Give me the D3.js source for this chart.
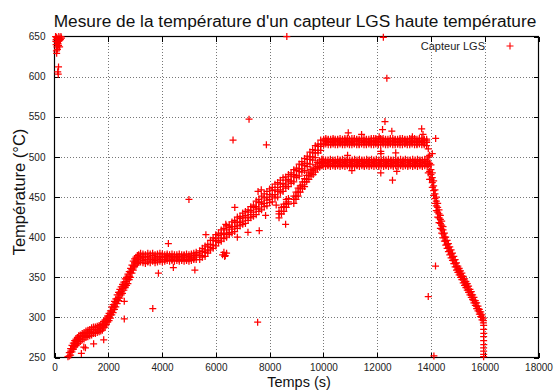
<!DOCTYPE html>
<html>
<head>
<meta charset="utf-8">
<script src="https://cdn.jsdelivr.net/npm/d3@7"></script>
<style>
  body { margin: 0; background: #fff; }
  text { font-family: "Liberation Sans", Arial, Helvetica, sans-serif; }
</style>
</head>
<body>
<svg id="chart" width="554" height="390"></svg>
<script>
// ---- Labels and ticks ----
const chartTitle = "Mesure de la température d'un capteur LGS haute température";
const xTitle = "Temps (s)";
const yTitle = "Température (°C)";
const seriesName = "Capteur LGS";
const xTicks = [0, 2000, 4000, 6000, 8000, 10000, 12000, 14000, 16000, 18000];
const yTicks = [250, 300, 350, 400, 450, 500, 550, 600, 650];

// ---- Readings: each row is a time (s) followed by the temperatures (°C) logged around it ----
const warmup = [
  [500, 243, 247, 251], [550, 248, 252, 256], [600, 253, 258, 261], [650, 257, 261, 265],
  [700, 260, 264, 268], [750, 263, 267, 271], [800, 265, 270, 273], [850, 267, 271, 275],
  [900, 268, 273, 277], [960, 270, 274, 278], [1030, 272, 276, 280], [1100, 273, 278, 281],
  [1170, 275, 278, 283], [1240, 276, 280, 284], [1310, 277, 282, 285], [1380, 278, 281, 287],
  [1450, 280, 283, 288], [1520, 280, 285, 288], [1590, 281, 284, 289], [1660, 282, 287, 290],
  [1720, 283, 286, 291], [1780, 284, 289, 292], [1830, 287, 290, 295], [1880, 288, 293, 297],
  [1930, 291, 295, 299], [1980, 294, 298, 302], [2030, 296, 301, 305], [2080, 299, 304, 308],
  [2130, 303, 307, 313], [2180, 306, 312, 316], [2230, 310, 314, 320], [2280, 313, 319, 323],
  [2330, 317, 322, 328], [2380, 321, 325, 331], [2430, 324, 330, 335], [2480, 328, 332, 338],
  [2530, 330, 336, 341], [2580, 334, 339, 344], [2630, 337, 341, 348], [2680, 340, 345, 350],
  [2730, 342, 348, 354], [2780, 347, 351, 357], [2830, 350, 356, 361], [2880, 355, 360, 365],
  [2930, 359, 364, 370], [2980, 363, 368, 373], [3030, 365, 370, 375], [3080, 367, 372, 377],
  [3130, 369, 374, 378]
];

const hold375 = [
  [3200, 369, 373, 376, 380], [3290, 368, 371, 375, 379], [3380, 367, 372, 374, 378],
  [3470, 369, 370, 376, 380], [3560, 368, 373, 375, 379], [3650, 370, 372, 377, 380],
  [3740, 368, 371, 374, 378], [3830, 369, 373, 376, 379], [3920, 370, 372, 375, 380],
  [4010, 369, 374, 376, 379], [4100, 370, 372, 375, 378], [4190, 371, 373, 377, 379],
  [4280, 370, 374, 376, 378], [4370, 371, 372, 375, 379], [4460, 370, 373, 376, 378],
  [4550, 371, 374, 375, 378], [4640, 370, 372, 376, 379], [4730, 371, 373, 375, 378],
  [4820, 370, 374, 377, 378], [4910, 371, 372, 375, 379], [5000, 370, 373, 376, 378],
  [5090, 371, 374, 375, 379], [5180, 372, 373, 377, 380], [5270, 372, 375, 378, 381]
];

const rampMain = [
  [5400, 372, 377, 379, 383], [5500, 375, 377, 382, 386], [5600, 376, 381, 384, 389],
  [5700, 380, 383, 388, 391], [5800, 384, 387, 391, 396], [5900, 386, 390, 396, 399],
  [6000, 389, 395, 398, 403], [6100, 393, 396, 402, 405], [6200, 395, 399, 404, 409],
  [6300, 398, 403, 405, 411], [6400, 400, 404, 409, 414], [6500, 403, 406, 412, 415],
  [6600, 405, 410, 413, 419], [6700, 407, 413, 418, 421], [6800, 411, 415, 419, 425],
  [6900, 414, 418, 423, 426], [7000, 416, 420, 425, 430], [7100, 417, 424, 427, 432],
  [7200, 421, 425, 431, 434], [7300, 424, 428, 433, 438], [7400, 426, 431, 437, 440],
  [7500, 428, 435, 438, 445], [7600, 432, 436, 443, 447], [7700, 434, 441, 444, 451],
  [7800, 438, 442, 449, 454], [7900, 439, 446, 450, 457], [8000, 443, 447, 453, 460],
  [8100, 444, 451, 458, 462], [8200, 449, 453, 459, 466], [8300, 450, 457, 462, 468],
  [8400, 455, 459, 466, 471], [8500, 457, 463, 467, 474], [8600, 461, 465, 471, 475],
  [8700, 463, 469, 472, 478], [8800, 467, 470, 476, 480], [8900, 469, 475, 478, 484],
  [9000, 474, 477, 483, 486], [9100, 476, 482, 485, 491], [9200, 481, 485, 490, 494],
  [9300, 483, 489, 492, 498], [9400, 488, 492, 497, 501], [9500, 491, 497, 500, 506],
  [9600, 496, 500, 505, 509], [9700, 499, 505, 508, 514], [9800, 505, 508, 513, 516],
  [9900, 508, 513, 516, 521]
];

const rampLower = [
  [8350, 424, 429, 432], [8440, 429, 432, 437], [8530, 432, 438, 441], [8620, 437, 442, 447],
  [8700, 441, 444, 448], [8900, 442, 447, 451], [8980, 447, 451, 456], [9060, 451, 456, 461],
  [9140, 456, 461, 464], [9220, 460, 465, 469], [9300, 463, 469, 473], [9380, 469, 472, 477],
  [9460, 472, 477, 481], [9540, 476, 479, 484], [9620, 478, 483, 486], [9700, 481, 485, 490],
  [9780, 485, 488, 493], [9860, 487, 492, 495], [9940, 489, 493, 497]
];

const plateauUpper = [
  [10010, 515, 517, 520, 522], [10090, 516, 519, 521, 523], [10180, 515, 518, 521, 522],
  [10270, 515, 516, 519, 522], [10360, 516, 518, 521, 523], [10440, 515, 519, 520, 522],
  [10530, 515, 517, 521, 522], [10620, 516, 518, 520, 523], [10710, 515, 517, 519, 522],
  [10800, 515, 518, 521, 523], [10890, 516, 519, 521, 523], [10970, 515, 517, 520, 522],
  [11060, 515, 518, 519, 523], [11150, 516, 517, 521, 523], [11240, 515, 519, 521, 522],
  [11330, 515, 516, 520, 522], [11420, 516, 518, 521, 523], [11510, 515, 519, 520, 523],
  [11600, 515, 517, 521, 522], [11690, 516, 518, 519, 522], [11780, 515, 517, 521, 523],
  [11870, 515, 519, 520, 523], [11950, 516, 518, 521, 523], [12040, 515, 516, 519, 522],
  [12130, 515, 518, 521, 523], [12220, 516, 519, 520, 523], [12310, 515, 517, 521, 522],
  [12400, 515, 518, 519, 522], [12490, 516, 517, 521, 523], [12580, 515, 519, 520, 523],
  [12670, 515, 518, 521, 522], [12760, 516, 516, 519, 522], [12850, 515, 518, 521, 523],
  [12940, 515, 519, 520, 523], [13030, 516, 517, 521, 522], [13120, 515, 518, 519, 522],
  [13210, 515, 517, 521, 523], [13300, 516, 519, 520, 523], [13390, 515, 518, 521, 523],
  [13480, 515, 516, 519, 522], [13570, 516, 518, 521, 523], [13660, 515, 519, 520, 523],
  [13750, 515, 517, 521, 522], [13840, 514, 518, 520, 522]
];

const plateauLower = [
  [9990, 489, 491, 494, 497], [10080, 488, 492, 495, 496], [10170, 489, 490, 493, 496],
  [10260, 488, 491, 494, 497], [10350, 489, 492, 495, 496], [10440, 488, 490, 493, 496],
  [10530, 489, 492, 494, 497], [10620, 488, 491, 495, 496], [10710, 489, 490, 493, 497],
  [10800, 488, 492, 494, 496], [10890, 489, 491, 495, 497], [10980, 488, 490, 493, 496],
  [11070, 489, 492, 494, 496], [11160, 488, 491, 495, 497], [11250, 489, 490, 493, 496],
  [11340, 488, 492, 494, 497], [11430, 489, 491, 495, 496], [11520, 488, 490, 493, 496],
  [11610, 489, 492, 494, 497], [11700, 488, 491, 495, 496], [11790, 489, 490, 493, 497],
  [11880, 488, 492, 494, 496], [11970, 489, 491, 495, 497], [12060, 488, 490, 493, 496],
  [12150, 489, 492, 494, 496], [12240, 488, 491, 495, 497], [12330, 489, 490, 493, 496],
  [12420, 488, 492, 494, 497], [12510, 489, 491, 495, 496], [12600, 488, 490, 493, 496],
  [12690, 489, 492, 494, 497], [12780, 488, 491, 495, 496], [12870, 489, 490, 493, 497],
  [12960, 488, 492, 494, 496], [13050, 489, 491, 495, 497], [13140, 488, 490, 493, 496],
  [13230, 489, 492, 494, 496], [13320, 488, 491, 495, 497], [13410, 489, 490, 493, 496],
  [13500, 488, 492, 494, 497], [13590, 489, 491, 495, 496], [13680, 488, 490, 493, 496],
  [13770, 489, 492, 494, 497], [13860, 488, 491, 494, 496]
];

const cooldown = [
  [13900, 480, 490, 500, 510], [13950, 472, 482, 492, 502],
  [14000, 472, 478, 484, 490], [14050, 462, 468, 474, 480], [14100, 452, 458, 464, 470],
  [14150, 442, 448, 454, 459], [14200, 433, 439, 445, 450], [14250, 425, 431, 437, 442],
  [14300, 418, 424, 429, 434], [14350, 411, 417, 422, 427], [14400, 405, 410, 415, 420],
  [14450, 399, 404, 409, 413], [14500, 395, 400, 405], [14550, 390, 395, 400],
  [14600, 386, 391, 396], [14650, 382, 387, 392], [14700, 378, 383, 388], [14750, 374, 379, 384],
  [14800, 371, 375, 380], [14850, 367, 371, 376], [14900, 363, 367, 372], [14950, 359, 363, 368],
  [15000, 356, 360, 364], [15050, 353, 357, 361], [15100, 350, 354, 358], [15150, 347, 351, 355],
  [15200, 343, 347, 351], [15250, 340, 344, 348], [15300, 337, 341, 345], [15350, 334, 338, 342],
  [15400, 331, 335, 339], [15450, 328, 331, 335], [15500, 325, 328, 332], [15550, 322, 325, 328],
  [15600, 318, 321, 325], [15650, 315, 318, 321], [15700, 311, 314, 318], [15750, 308, 311, 314],
  [15800, 304, 307, 310], [15850, 301, 304, 307], [15900, 297, 300, 303], [15950, 293, 296, 299]
];

// Single readings: [time (s), temperature (°C)]
const startupBurst = [
  [40, 650], [60, 646], [80, 649], [100, 643], [60, 640], [120, 647], [140, 644], [90, 637],
  [160, 650], [180, 645], [110, 634], [200, 648], [150, 639], [70, 632], [220, 646], [240, 650],
  [130, 641], [190, 637], [260, 648], [100, 647], [50, 644], [80, 629],
  [150, 612], [120, 606], [140, 603]
];

const finalDrop = [
  [15960, 290], [15960, 285], [15965, 280], [15960, 276], [15960, 271],
  [15965, 266], [15960, 262], [15960, 258], [15960, 254], [15960, 251]
];

const strayReadings = [
  [8640, 650], [12230, 649], [12360, 598], [7235, 547], [6640, 521], [7880, 515],
  [12290, 544], [12200, 534], [12545, 532], [10925, 530], [11420, 528], [13655, 535],
  [13705, 528], [14175, 523], [12075, 525], [13310, 525], [10900, 502], [12135, 507],
  [12140, 504], [12690, 505], [12135, 480], [12730, 482], [12570, 471], [11060, 483],
  [14050, 504], [4235, 392], [3865, 355], [4420, 362], [5220, 359], [3655, 311],
  [2595, 320], [2595, 298], [1830, 272], [1455, 267], [1090, 263], [1150, 262], [1000, 255],
  [6705, 437], [5630, 403], [6370, 416], [7195, 406], [7615, 408], [8595, 416], [7850, 427],
  [7570, 457], [7690, 459], [8245, 440], [5000, 447], [7555, 294], [14170, 364],
  [13900, 326], [14110, 252], [6800, 400], [6250, 378], [6300, 381], [6350, 377],
  [6400, 380], [6330, 376]
];

// ---- Layout ----
const svg = d3.select("#chart");
svg.append("rect").attr("width", 554).attr("height", 390).attr("fill", "#fff");

const x = d3.scaleLinear().domain([0, 18000]).range([54.5, 538.5]);
const y = d3.scaleLinear().domain([250, 650]).range([357.5, 36.5]);
const [x0, x1] = x.range();
const [y0, y1] = y.range();

// Dotted grid
const grid = svg.append("g").attr("stroke", "#777").attr("stroke-width", 1)
  .attr("stroke-dasharray", "1,2").attr("shape-rendering", "crispEdges");
grid.selectAll("line.gx").data(xTicks.slice(1, -1)).join("line")
  .attr("x1", d => Math.round(x(d)) + 0.5).attr("x2", d => Math.round(x(d)) + 0.5)
  .attr("y1", y1).attr("y2", y0);
grid.selectAll("line.gy").data(yTicks.slice(1, -1)).join("line")
  .attr("x1", x0).attr("x2", x1)
  .attr("y1", d => Math.round(y(d)) + 0.5).attr("y2", d => Math.round(y(d)) + 0.5);

// Axes: ticks pointing inward on all four sides, labels on bottom and left
const tickLen = 5;
const axisBottom = d3.axisBottom(x).tickValues(xTicks).tickSize(-tickLen).tickPadding(6).tickFormat(d3.format("d"));
const axisTop = d3.axisTop(x).tickValues(xTicks).tickSize(-tickLen).tickFormat("");
const axisLeft = d3.axisLeft(y).tickValues(yTicks).tickSize(-tickLen).tickPadding(9).tickFormat(d3.format("d"));
const axisRight = d3.axisRight(y).tickValues(yTicks).tickSize(-tickLen).tickFormat("");

function styleAxis(g) {
  g.select(".domain").remove();
  g.selectAll(".tick line").attr("stroke", "#000").attr("shape-rendering", "crispEdges");
  g.selectAll(".tick text").attr("fill", "#222").attr("font-size", 10)
    .attr("font-family", "'Liberation Sans', Arial, sans-serif");
}
svg.append("g").attr("transform", `translate(0,${y0})`).call(axisBottom).call(styleAxis);
svg.append("g").attr("transform", `translate(0,${y1})`).call(axisTop).call(styleAxis);
svg.append("g").attr("transform", `translate(${x0},0)`).call(axisLeft).call(styleAxis);
svg.append("g").attr("transform", `translate(${x1},0)`).call(axisRight).call(styleAxis);

// Frame
svg.append("rect").attr("x", x0).attr("y", y1).attr("width", x1 - x0).attr("height", y0 - y1)
  .attr("fill", "none").attr("stroke", "#000").attr("stroke-width", 1.2);

// ---- Points ----
const fromRows = rows => rows.flatMap(([t, ...temps]) => temps.map(v => [t, v]));
const points = [
  ...fromRows(warmup), ...fromRows(hold375), ...fromRows(rampMain), ...fromRows(rampLower),
  ...fromRows(plateauUpper), ...fromRows(plateauLower), ...fromRows(cooldown),
  ...startupBurst, ...finalDrop, ...strayReadings
].filter(([t, v]) => v >= 250 && v <= 650 && t >= 0 && t <= 18000);

const plus = "M-3.5,0H3.5M0,-3.5V3.5";
svg.append("g").attr("stroke", "#ff0000").attr("stroke-width", 1.25).attr("fill", "none")
  .selectAll("path").data(points).join("path")
  .attr("transform", d => `translate(${x(d[0])},${y(d[1])})`)
  .attr("d", plus);

// ---- Legend ----
svg.append("text").attr("x", 485).attr("y", 50).attr("text-anchor", "end")
  .attr("font-size", 11).attr("fill", "#222").text(seriesName);
svg.append("path").attr("transform", "translate(510,46)").attr("d", plus)
  .attr("stroke", "#ff0000").attr("stroke-width", 1.1);

// ---- Titles ----
svg.append("text").attr("x", 295).attr("y", 27).attr("text-anchor", "middle")
  .attr("font-size", 17.3).attr("fill", "#111").text(chartTitle);
svg.append("text").attr("x", 299).attr("y", 386.8).attr("text-anchor", "middle")
  .attr("font-size", 14.5).attr("fill", "#111").text(xTitle);
svg.append("text").attr("transform", "translate(25,192) rotate(-90)").attr("text-anchor", "middle")
  .attr("font-size", 16.5).attr("fill", "#111").text(yTitle);
</script>
</body>
</html>
